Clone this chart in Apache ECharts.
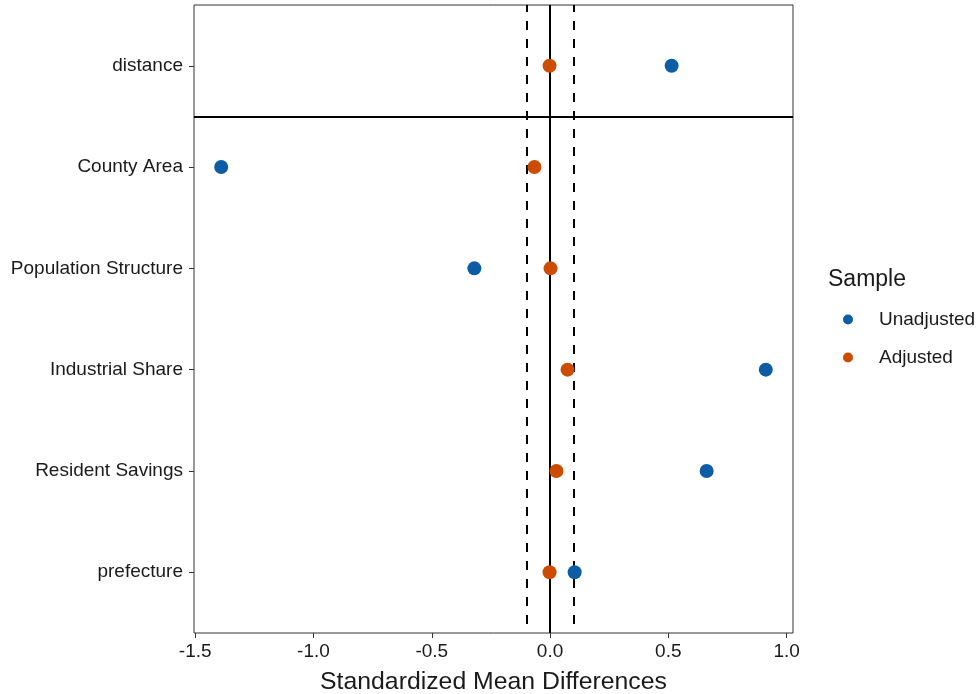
<!DOCTYPE html>
<html>
<head>
<meta charset="utf-8">
<script src="https://cdn.jsdelivr.net/npm/echarts@6/dist/echarts.min.js"></script>
<style>
	html, body { margin: 0; padding: 0; background: #fff; }
	#main { width: 979px; height: 694px; }
</style>
</head>
<body>
<div id="main"></div>
<script>
// rows from bottom to top (ggplot order)
var covariates = ['prefecture', 'Resident Savings', 'Industrial Share', 'Population Structure', 'County Area', 'distance'];
var unadjusted = [0.104, 0.662, 0.912, -0.320, -1.390, 0.514];
var adjusted = [-0.002, 0.027, 0.074, 0.002, -0.066, -0.002];
var xTicks = [-1.5, -1.0, -0.5, 0.0, 0.5, 1.0];
var yTicks = [1, 2, 3, 4, 5, 6];
var threshold = 0.1;

var fontName = 'Liberation Sans, Arial, sans-serif';

function toPoints(values) {
	var pts = [];
	for (var i = 0; i < values.length; i++) {
		pts.push([values[i], i + 1]);
	}
	return pts;
}

var dashed = { color : '#000', width : 2, type : [ 9, 9 ], dashOffset : 9 };
var solid = { color : '#000', width : 2, type : 'solid' };

var myChart = echarts.init(document.getElementById('main'));
var option = {
	animation : false,
	backgroundColor : '#fff',
	textStyle : {
		fontFamily : fontName
	},
	grid : {
		left : 194,
		right : 186,
		top : 5,
		bottom : 61,
		outerBoundsMode : 'none',
		containLabel : false,
		show : true,
		borderColor : '#333',
		borderWidth : 1,
		backgroundColor : '#fff'
	},
	legend : {
		data : [ 'Unadjusted', 'Adjusted' ],
		orient : 'vertical',
		left : 838,
		top : 305,
		icon : 'circle',
		itemWidth : 10,
		itemHeight : 10,
		itemGap : 19,
		textStyle : {
			fontSize : 19,
			color : '#1a1a1a',
			fontFamily : fontName,
			padding : [ 0, 0, 0, 21 ]
		}
	},
	graphic : [ {
		type : 'text',
		left : 828,
		top : 268,
		style : {
			text : 'Sample',
			fontSize : 23,
			fill : '#1a1a1a',
			fontFamily : fontName
		}
	} ],
	xAxis : {
		type : 'value',
		min : -1.505,
		max : 1.027,
		name : 'Standardized Mean Differences',
		nameLocation : 'middle',
		nameGap : 37,
		nameTextStyle : {
			fontSize : 24.8,
			color : '#1a1a1a',
			fontFamily : fontName
		},
		axisLine : { show : false, onZero : false },
		splitLine : { show : false },
		axisTick : {
			show : true,
			inside : false,
			length : 5,
			customValues : xTicks,
			lineStyle : { color : '#333', width : 1 }
		},
		axisLabel : {
			customValues : xTicks,
			fontSize : 19,
			color : '#1a1a1a',
			margin : 9,
			formatter : function(v) {
				return v.toFixed(1);
			}
		}
	},
	yAxis : {
		type : 'value',
		min : 0.4,
		max : 6.6,
		axisLine : { show : false, onZero : false },
		splitLine : { show : false },
		axisTick : {
			show : true,
			inside : false,
			length : 5,
			customValues : yTicks,
			lineStyle : { color : '#333', width : 1 }
		},
		axisLabel : {
			customValues : yTicks,
			fontSize : 19,
			color : '#1a1a1a',
			margin : 11,
			formatter : function(v) {
				return covariates[Math.round(v) - 1] || '';
			}
		}
	},
	series : [ {
		name : 'ref',
		type : 'line',
		data : [],
		z : 1,
		silent : true,
		markLine : {
			symbol : 'none',
			silent : true,
			label : { show : false },
			data : [
				{ xAxis : 0, lineStyle : solid },
				{ xAxis : -threshold, lineStyle : dashed },
				{ xAxis : threshold, lineStyle : dashed },
				{ yAxis : 5.5, lineStyle : solid }
			]
		}
	}, {
		name : 'Unadjusted',
		type : 'scatter',
		symbolSize : 14,
		zlevel : 1,
		z : 3,
		itemStyle : { color : '#0C5DA5', opacity : 1 },
		data : toPoints(unadjusted)
	}, {
		name : 'Adjusted',
		type : 'scatter',
		symbolSize : 14,
		zlevel : 1,
		z : 4,
		itemStyle : { color : '#CC4C02', opacity : 1 },
		data : toPoints(adjusted)
	} ]
};
myChart.setOption(option);
</script>
</body>
</html>
